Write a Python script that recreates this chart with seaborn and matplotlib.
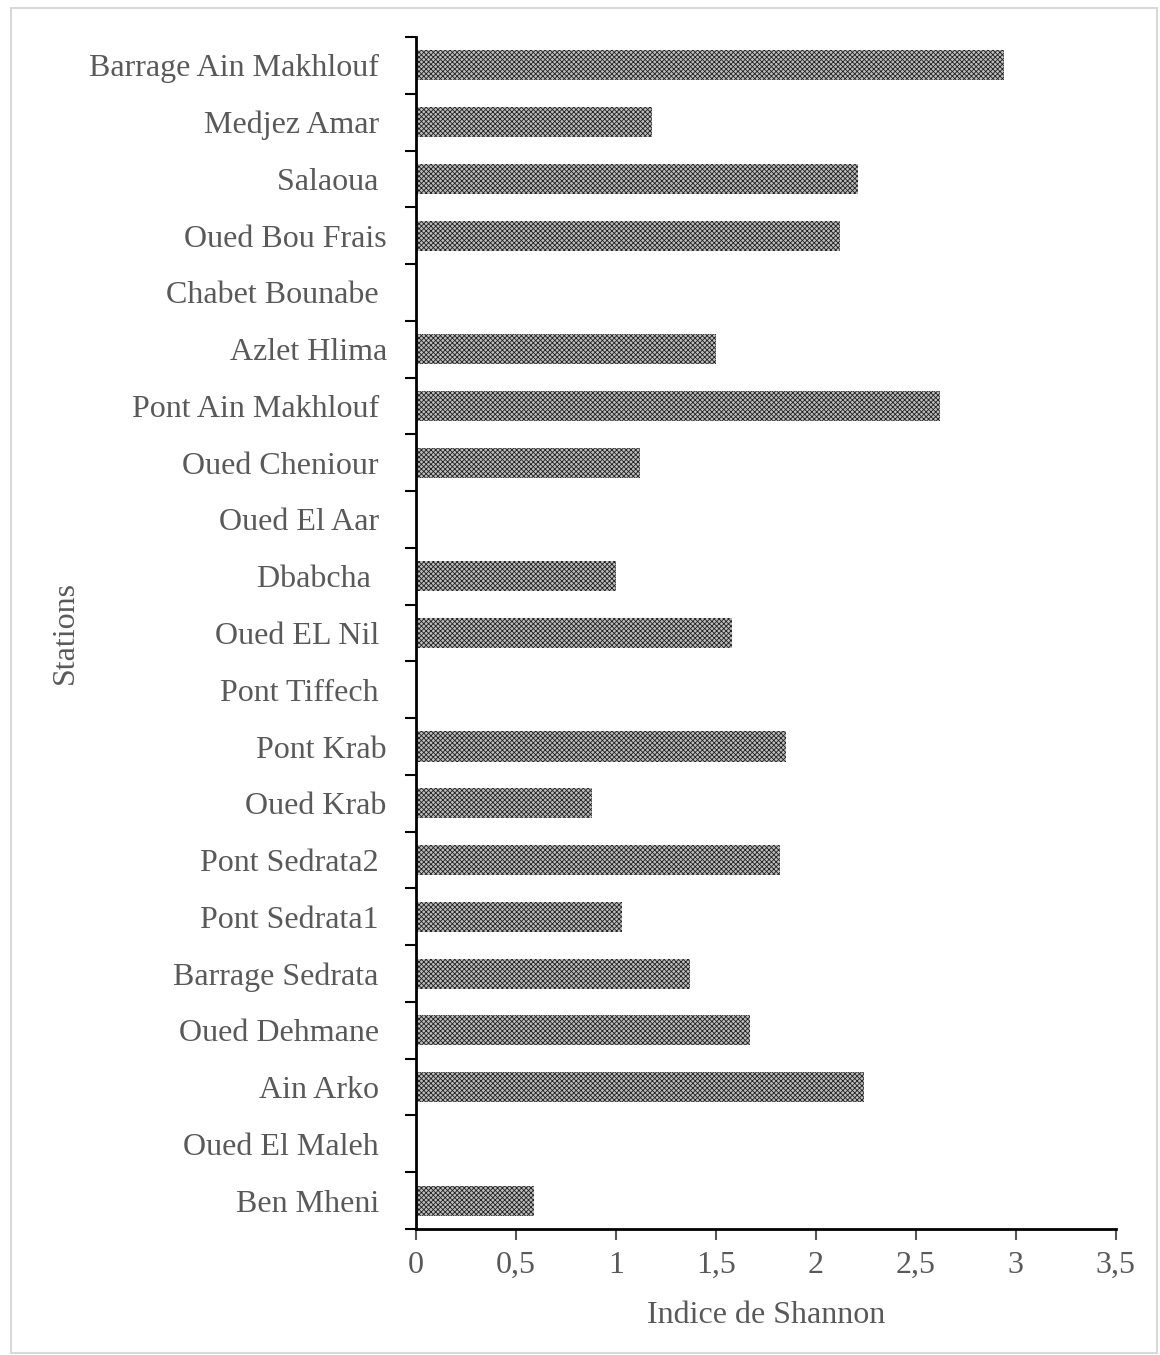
import matplotlib.pyplot as plt
import matplotlib.patches as mpatches
import numpy as np
import pandas as pd
import seaborn as sns

sns.set_theme(style="white")
plt.rcParams["font.family"] = ["Liberation Serif", "DejaVu Serif"]
plt.rcParams["hatch.linewidth"] = 0.6

# data
stations = [
    "Barrage Ain Makhlouf ",
    "Medjez Amar ",
    "Salaoua ",
    "Oued Bou Frais",
    "Chabet Bounabe ",
    "Azlet Hlima",
    "Pont Ain Makhlouf ",
    "Oued Cheniour ",
    "Oued El Aar ",
    "Dbabcha  ",
    "Oued EL Nil ",
    "Pont Tiffech ",
    "Pont Krab",
    "Oued Krab",
    "Pont Sedrata2 ",
    "Pont Sedrata1 ",
    "Barrage Sedrata ",
    "Oued Dehmane ",
    "Ain Arko ",
    "Oued El Maleh ",
    "Ben Mheni ",
]
shannon = [2.94, 1.18, 2.21, 2.12, 0, 1.50, 2.62, 1.12, 0, 1.00, 1.58,
           0, 1.85, 0.88, 1.82, 1.03, 1.37, 1.67, 2.24, 0, 0.59]
x_ticks = [0, 0.5, 1, 1.5, 2, 2.5, 3, 3.5]
x_ticklabels = ["0", "0,5", "1", "1,5", "2", "2,5", "3", "3,5"]

df = pd.DataFrame({"station": stations, "H": shannon})

fig = plt.figure(figsize=(11.6, 13.55), dpi=100)
ax = fig.add_axes([0.3586, 0.093, 0.962 - 0.3586, 0.9727 - 0.093])

sns.barplot(data=df, y="station", x="H", orient="h", width=0.53,
            color="#bdbdbd", ax=ax)
for p in ax.patches:
    p.set_hatch("xxxxxxx")
    p.set_edgecolor("#222222")
    p.set_linewidth(0)

text_color = "#595959"
fs = 23
ax.set_xlim(0, 3.5)
ax.set_ylim(len(stations) - 0.5, -0.5)
ax.set_xticks(x_ticks)
ax.set_xticklabels(x_ticklabels, fontsize=fs, color=text_color)
ax.tick_params(axis="x", direction="out", length=8, width=1.5,
               color="#595959", bottom=True, pad=8)

ax.set_yticks(np.arange(len(stations)))
ax.set_yticklabels(stations, fontsize=fs, color=text_color)
ax.set_yticks(np.arange(len(stations) + 1) - 0.5, minor=True)
ax.tick_params(axis="y", which="major", length=0, pad=21)
ax.tick_params(axis="y", which="minor", direction="out", length=8,
               width=1.5, color="black", left=True)

for s in ["top", "right"]:
    ax.spines[s].set_visible(False)
for s in ["left", "bottom"]:
    ax.spines[s].set_color("black")
    ax.spines[s].set_linewidth(2)

ax.set_xlabel("Indice de Shannon", fontsize=fs, color=text_color, labelpad=15)
ax.set_ylabel("Stations", fontsize=fs, color=text_color)
ax.yaxis.set_label_coords(-0.48, 0.5)

border = mpatches.Rectangle((11 / 1160, 2 / 1355), 1146 / 1160, 1345 / 1355,
                            transform=fig.transFigure, fill=False,
                            edgecolor="#d9d9d9", linewidth=1.5)
fig.patches.append(border)

fig.savefig("out.png", dpi=100)
